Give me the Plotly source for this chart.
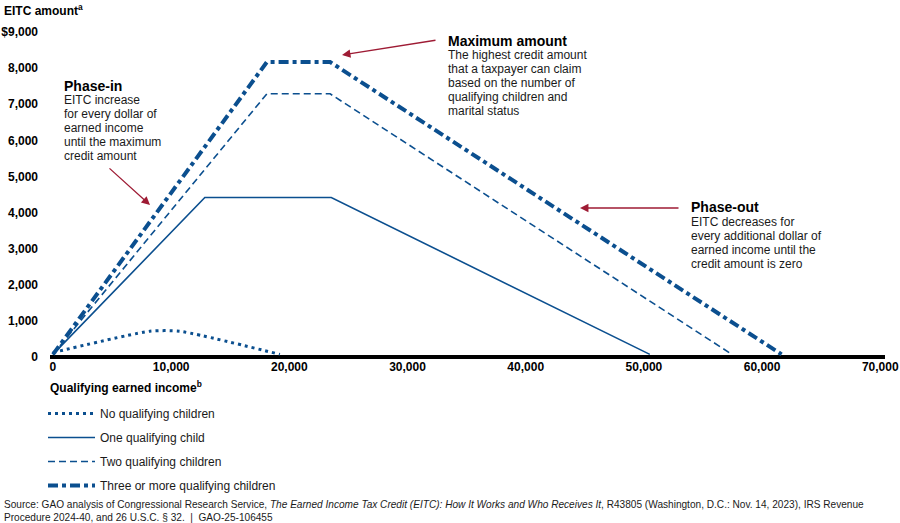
import plotly.graph_objects as go

# ---- data ----
series_names = ["No qualifying children", "One qualifying child",
                "Two qualifying children", "Three or more qualifying children"]
income_none = [0, 8200, 10700, 19200]
eitc_none = [130, 720, 720, 80]
income_one = [0, 12850, 23550, 50500]
eitc_one = [80, 4420, 4420, 80]
income_two = [0, 18100, 23450, 57450]
eitc_two = [80, 7290, 7290, 80]
income_three = [0, 18100, 23450, 61650]
eitc_three = [80, 8170, 8170, 80]

y_tickvals = [0, 1000, 2000, 3000, 4000, 5000, 6000, 7000, 8000, 9000]
y_ticktext = ["0", "1,000", "2,000", "3,000", "4,000", "5,000", "6,000", "7,000", "8,000", "$9,000"]
x_tickvals = [0, 10000, 20000, 30000, 40000, 50000, 60000, 70000]

BLUE = "#0b4f8f"
RED = "#9e1b34"
TXT = "#1a1a1a"
FONT = "Liberation Sans, Arial, sans-serif"

W, H = 900, 523
ML, MR, MT, MB = 50, 15, 32, 165
PW, PH = W - ML - MR, H - MT - MB


def px(x):
    return (x - ML) / PW


def py(y):
    return (H - MB - y) / PH


fig = go.Figure()
fig.add_trace(go.Scatter(x=income_none, y=eitc_none, mode="lines", name=series_names[0],
                         legendgroup="a", line=dict(color=BLUE, width=3, dash="3px,4px", shape="spline", smoothing=0.6)))
fig.add_trace(go.Scatter(x=income_one, y=eitc_one, mode="lines", name=series_names[1],
                         legendgroup="b", line=dict(color=BLUE, width=1.6)))
fig.add_trace(go.Scatter(x=income_two, y=eitc_two, mode="lines", name=series_names[2],
                         legendgroup="c", line=dict(color=BLUE, width=1.6, dash="7px,4px")))
fig.add_trace(go.Scatter(x=income_three, y=eitc_three, mode="lines", name=series_names[3],
                         legendgroup="d", line=dict(color=BLUE, width=4, dash="10px,4px,4px,4px")))

annotations = []

# axis titles
annotations.append(dict(xref="paper", yref="paper", x=px(2), y=py(10), xanchor="left", yanchor="middle",
                        text="<b>EITC amount<sup>a</sup></b>", showarrow=False,
                        font=dict(family=FONT, size=12, color="#000")))
annotations.append(dict(xref="paper", yref="paper", x=px(48), y=py(387), xanchor="left", yanchor="middle",
                        text="<b>Qualifying earned income<sup>b</sup></b>", showarrow=False,
                        font=dict(family=FONT, size=12, color="#000")))

# callouts
callouts = [
    (62, 86, "Phase-in", ["EITC increase", "for every dollar of", "earned income",
                          "until the maximum", "credit amount"], 100),
    (446, 41, "Maximum amount", ["The highest credit amount", "that a taxpayer can claim",
                                 "based on the number of", "qualifying children and",
                                 "marital status"], 55),
    (689, 207, "Phase-out", ["EITC decreases for", "every additional dollar of",
                             "earned income until the", "credit amount is zero"], 222),
]
for cx, cy, title, lines, y0 in callouts:
    annotations.append(dict(xref="paper", yref="paper", x=px(cx), y=py(cy), xanchor="left", yanchor="middle",
                            text="<b>" + title + "</b>", showarrow=False,
                            font=dict(family=FONT, size=14, color="#000")))
    for i, ln in enumerate(lines):
        annotations.append(dict(xref="paper", yref="paper", x=px(cx), y=py(y0 + 14 * i),
                                xanchor="left", yanchor="middle", text=ln, showarrow=False,
                                font=dict(family=FONT, size=12, color=TXT)))

# arrows (head, tail in pixel positions)
arrows = [((150, 205), (108, 167)), ((342, 55), (437, 40)), ((580, 208), (680, 208))]
for (hx, hy), (tx, ty) in arrows:
    annotations.append(dict(xref="paper", yref="paper", x=px(hx), y=py(hy),
                            ax=tx - hx, ay=ty - hy, text="", showarrow=True,
                            arrowhead=2, arrowsize=1.3, arrowwidth=1.3, arrowcolor=RED))

# source
annotations.append(dict(xref="paper", yref="paper", x=px(2), y=py(511), xanchor="left", yanchor="middle",
                        align="left", showarrow=False,
                        text=("Source: GAO analysis of Congressional Research Service, <i>The Earned Income Tax Credit "
                              "(EITC): How It Works and Who Receives It</i>, R43805 (Washington, D.C.: Nov. 14, 2023), IRS Revenue"
                              "<br>Procedure 2024-40, and 26 U.S.C. § 32.  |  GAO-25-106455"),
                        font=dict(family=FONT, size=10.1, color=TXT)))

fig.update_layout(
    width=W, height=H,
    margin=dict(l=ML, r=MR, t=MT, b=MB, pad=0, autoexpand=False),
    paper_bgcolor="white", plot_bgcolor="white",
    font=dict(family=FONT, size=12, color=TXT),
    showlegend=True,
    legend=dict(xref="container", yref="container", x=43 / W, y=1 - 399 / H,
                xanchor="left", yanchor="top", tracegroupgap=5, itemwidth=47,
                font=dict(family=FONT, size=12, color=TXT), bgcolor="rgba(0,0,0,0)"),
    annotations=annotations,
    xaxis=dict(range=[-250, 70400], tickvals=x_tickvals, tickformat=",", showgrid=False,
               zeroline=False, showline=False, ticks="",
               tickfont=dict(family=FONT, size=12, color="#000", weight="bold"),
               fixedrange=True),
    yaxis=dict(range=[-20, 9000], tickvals=y_tickvals, ticktext=y_ticktext, showgrid=False,
               zeroline=True, zerolinecolor="#000", zerolinewidth=4, showline=False, ticks="",
               tickfont=dict(family=FONT, size=12, color="#000", weight="bold"), ticklabelstandoff=11,
               fixedrange=True),
)

fig.write_html("out.html", config={"displayModeBar": False},
               post_script="document.body.style.margin='0';document.body.style.overflow='hidden';")
